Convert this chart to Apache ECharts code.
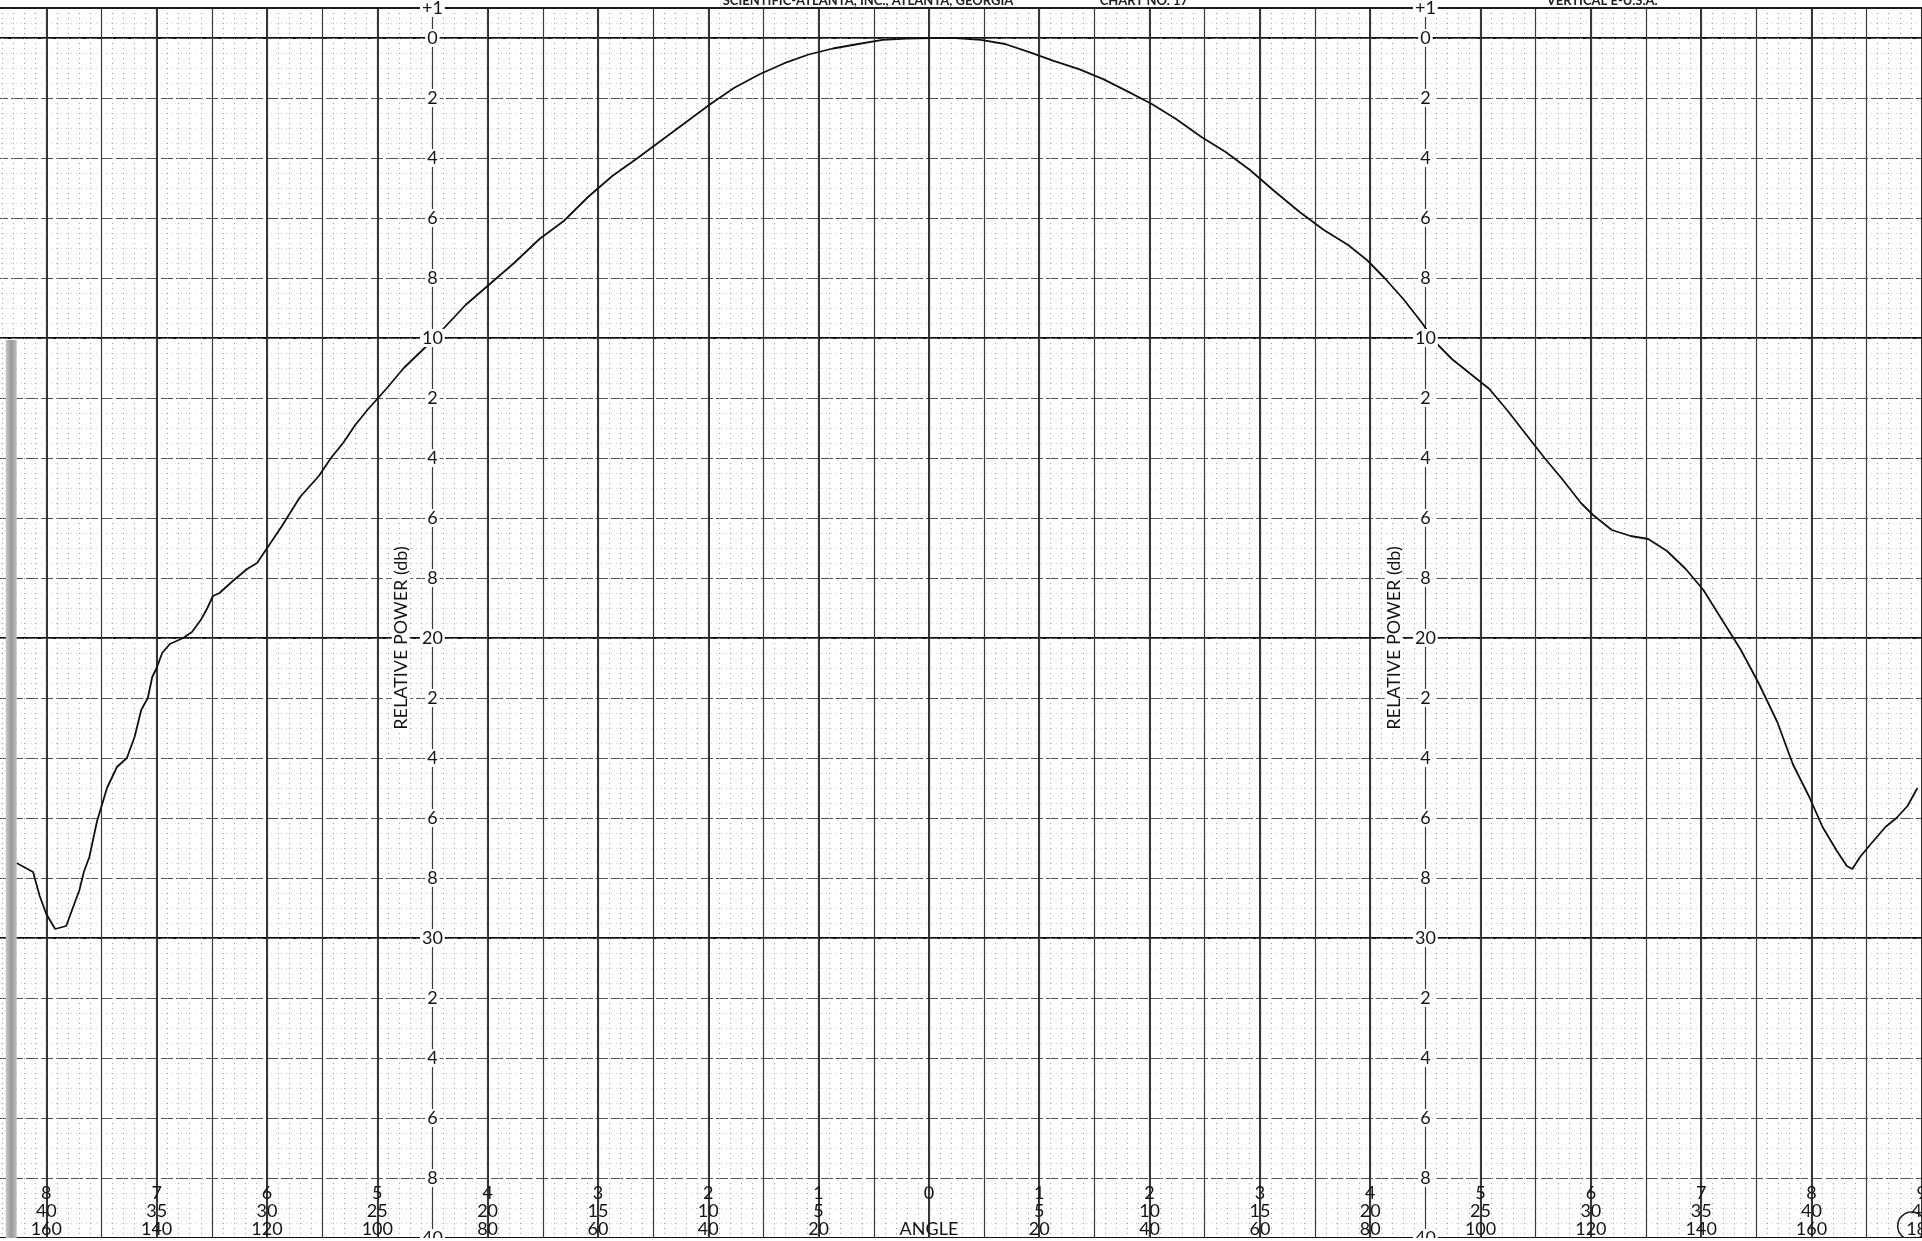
<!DOCTYPE html>
<html>
<head>
<meta charset="utf-8">
<title>Relative power vs angle</title>
<script src="https://cdn.jsdelivr.net/npm/echarts@6/dist/echarts.min.js"></script>
<style>
html, body { margin: 0; padding: 0; width: 1922px; height: 1241px; overflow: hidden; background: #fff; }
/* the plotting paper runs past the window on every side, like the scan */
#chart { position: absolute; left: -63.7px; top: -262px; width: 2041px; height: 1500px; }
</style>
</head>
<body>
<div id="chart"></div>
<script>
// angle in chart units (1 unit = 5 deg on the middle row), power in dB below peak
var angleUnits = [-8.27, -8.12, -8.06, -8.00, -7.92, -7.82, -7.77, -7.70, -7.66, -7.61, -7.54,
    -7.45, -7.36, -7.27, -7.20, -7.14, -7.08, -7.04, -7.00, -6.95, -6.88, -6.76, -6.68, -6.60,
    -6.54, -6.49, -6.43, -6.31, -6.18, -6.09, -5.98, -5.87, -5.70,
    -5.53, -5.42, -5.31, -5.20, -5.09, -4.92, -4.76, -4.59, -4.48, -4.20, -3.98, -3.76, -3.53,
    -3.31, -3.09, -2.87, -2.64, -2.42, -2.20, -1.98, -1.76, -1.53, -1.31, -1.09, -0.87, -0.64,
    -0.42, -0.20, 0.02, 0.24, 0.47, 0.69,
    0.91, 1.13, 1.36, 1.58, 1.80, 2.02, 2.24, 2.47, 2.69, 2.91, 3.13, 3.36, 3.58, 3.80, 3.97,
    4.13, 4.30, 4.47, 4.58, 4.74, 4.91, 5.08, 5.24, 5.41, 5.58, 5.74, 5.91, 6.02, 6.19, 6.36,
    6.52, 6.69, 6.86, 7.02, 7.19, 7.36, 7.52,
    7.69, 7.83, 7.98, 8.10, 8.23, 8.32, 8.37, 8.44, 8.53, 8.67, 8.77, 8.87, 8.96];
var powerDb = [27.5, 27.8, 28.6, 29.2, 29.7, 29.6, 29.1, 28.4, 27.8, 27.3, 26.1,
    25.0, 24.3, 24.0, 23.3, 22.4, 22.0, 21.3, 21.0, 20.5, 20.2, 20.0, 19.8, 19.4,
    19.0, 18.6, 18.5, 18.1, 17.7, 17.5, 16.9, 16.3, 15.3,
    14.6, 14.0, 13.5, 12.9, 12.4, 11.7, 11.0, 10.4, 10.0, 8.9, 8.2, 7.5, 6.7,
    6.1, 5.3, 4.6, 4.0, 3.4, 2.8, 2.2, 1.65, 1.2, 0.84, 0.55, 0.35, 0.2,
    0.06, 0.02, 0, 0, 0.06, 0.2,
    0.47, 0.76, 1.04, 1.37, 1.78, 2.2, 2.7, 3.3, 3.8, 4.4, 5.1, 5.8, 6.4, 6.9, 7.4,
    8.0, 8.7, 9.5, 10.1, 10.7, 11.2, 11.7, 12.4, 13.2, 14.0, 14.7, 15.5, 15.9, 16.4, 16.6,
    16.7, 17.1, 17.7, 18.4, 19.4, 20.4, 21.5,
    22.8, 24.2, 25.3, 26.3, 27.1, 27.6, 27.7, 27.3, 26.9, 26.3, 26.0, 25.6, 25.0];

// tick labels printed on the paper
var dbTicks = [-1, 0, 2, 4, 6, 8, 10, 12, 14, 16, 18, 20, 22, 24, 26, 28, 30, 32, 34, 36, 38, 40];
var dbLabels = ['+1', '0', '2', '4', '6', '8', '10', '2', '4', '6', '8', '20', '2', '4', '6', '8', '30', '2', '4', '6', '8', '40'];
var angleTicks = [-9, -8, -7, -6, -5, -4, -3, -2, -1, 0, 1, 2, 3, 4, 5, 6, 7, 8, 9];
var angleRow1 = ['9', '8', '7', '6', '5', '4', '3', '2', '1', '0', '1', '2', '3', '4', '5', '6', '7', '8', '9'];
var angleRow2 = ['45', '40', '35', '30', '25', '20', '15', '10', '5', '', '5', '10', '15', '20', '25', '30', '35', '40', '45'];
var angleRow3 = ['180', '160', '140', '120', '100', '80', '60', '40', '20', 'ANGLE', '20', '40', '60', '80', '100', '120', '140', '160', '180'];

var headerTexts = ['SCIENTIFIC-ATLANTA, INC., ATLANTA, GEORGIA', 'CHART NO. 17', 'VERTICAL E-U.S.A.'];
var titleText = 'RELATIVE POWER (db)';

var FONT = 'Lato, "DejaVu Sans", sans-serif';
var OX = 63.7, OY = 262;   // window -> chart div offset, only for decorations

function dbLabel(v) {
    var i = dbTicks.indexOf(v);
    return i < 0 ? '' : dbLabels[i];
}
function angleLabel(v) {
    var i = angleTicks.indexOf(v);
    if (i < 0) return '';
    return angleRow1[i] + '\n' + angleRow2[i] + '\n' + angleRow3[i];
}

var hidden = { axisLine: { show: false }, axisTick: { show: false }, axisLabel: { show: false } };
function gridAxis(extra) { return Object.assign({ type: 'value' }, hidden, extra); }

var chart = echarts.init(document.getElementById('chart'), null, { renderer: 'canvas' });
var option = {
    animation: false,
    backgroundColor: '#fff',
    grid: { left: 0, right: 0, top: 0, bottom: 0, containLabel: false, outerBoundsMode: 'none' },
    xAxis: [
        gridAxis({ min: -9, max: 9.5, interval: 1,
            splitLine: { show: true, lineStyle: { color: '#1c1c1c', width: 1.8 } } }),
        gridAxis({ min: -9, max: 9.5, interval: 0.5,
            splitLine: { show: true, lineStyle: { color: '#3a3a3a', width: 1.2 } },
            minorTick: { show: false, splitNumber: 5 },
            minorSplitLine: { show: true, lineStyle: { color: '#a0a0a0', width: 1, type: [1, 4] } } }),
        { type: 'value', min: -9, max: 9.5, interval: 1, position: 'bottom', offset: -57, z: 50,
            axisLine: { show: false }, axisTick: { show: false }, splitLine: { show: false },
            axisLabel: { formatter: angleLabel, fontFamily: FONT, fontSize: 18, lineHeight: 18,
                color: '#151515', margin: 3, showMinLabel: true, showMaxLabel: true } }
    ],
    yAxis: [
        gridAxis({ inverse: true, min: -10, max: 40, interval: 10,
            splitLine: { show: true, lineStyle: { color: '#111', width: 2.2 } } }),
        gridAxis({ inverse: true, min: -10, max: 40, interval: 2,
            splitLine: { show: true, lineStyle: { color: '#555', width: 1.2, type: [12, 3] } },
            minorTick: { show: false, splitNumber: 4 },
            minorSplitLine: { show: true, lineStyle: { color: '#d0d0d0', width: 1, type: [1, 4] } } }),
        { type: 'value', inverse: true, min: -10, max: 40, interval: 1, position: 'left', offset: -496.4, z: 50,
            axisLine: { show: false }, axisTick: { show: false }, splitLine: { show: false },
            axisLabel: { formatter: dbLabel, align: 'center', margin: 0, fontFamily: FONT, fontSize: 18,
                color: '#151515', backgroundColor: '#fff', padding: [0, 2] } },
        { type: 'value', inverse: true, min: -10, max: 40, interval: 1, position: 'right', offset: -551.6, z: 50,
            axisLine: { show: false }, axisTick: { show: false }, splitLine: { show: false },
            axisLabel: { formatter: dbLabel, align: 'center', margin: 0, fontFamily: FONT, fontSize: 18,
                color: '#151515', backgroundColor: '#fff', padding: [0, 2] } }
    ],
    series: [{
        type: 'line',
        xAxisIndex: 0,
        yAxisIndex: 0,
        showSymbol: false,
        symbol: 'none',
        z: 20,
        lineStyle: { color: '#111', width: 1.8 },
        data: angleUnits.map(function(a, i) { return [a, powerDb[i]]; }),
        markLine: {
            silent: true,
            symbol: 'none',
            label: { show: false },
            lineStyle: { color: '#1c1c1c', width: 1.8, type: 'solid' },
            data: [{ yAxis: -1 }]
        }
    }],
    graphic: [
        // blank strip above the +1 line
        { type: 'rect', z: 10, shape: { x: 0, y: 0, width: 2041, height: OY + 7 }, style: { fill: '#fff' } },
        { type: 'text', z: 11, x: 723 + OX, y: OY - 6, style: { text: headerTexts[0], font: 'bold 13px ' + FONT, fill: '#222' } },
        { type: 'text', z: 11, x: 1100 + OX, y: OY - 6, style: { text: headerTexts[1], font: 'bold 13px ' + FONT, fill: '#222' } },
        { type: 'text', z: 11, x: 1547 + OX, y: OY - 6, style: { text: headerTexts[2], font: 'bold 13px ' + FONT, fill: '#222' } },
        { type: 'text', z: 60, x: 401 + OX, y: 638 + OY, rotation: Math.PI / 2,
            style: { text: titleText, font: '18px ' + FONT, fill: '#151515', align: 'center', verticalAlign: 'middle', backgroundColor: '#fff' } },
        { type: 'text', z: 60, x: 1394 + OX, y: 638 + OY, rotation: Math.PI / 2,
            style: { text: titleText, font: '18px ' + FONT, fill: '#151515', align: 'center', verticalAlign: 'middle', backgroundColor: '#fff' } },
        // scan shadow at the left edge of the sheet
        { type: 'rect', z: 60, shape: { x: 6 + OX, y: 340 + OY, width: 11, height: 920 },
            style: { fill: new echarts.graphic.LinearGradient(0, 0, 1, 0, [
                { offset: 0, color: '#c8c8c8' }, { offset: 0.5, color: '#9a9a9a' }, { offset: 1, color: '#bdbdbd' }]) } },
        // hand-drawn ring round the last angle label
        { type: 'circle', z: 60, shape: { cx: 1912 + OX, cy: 1226 + OY, r: 14 }, style: { fill: 'none', stroke: '#222', lineWidth: 1.6 } }
    ]
};
chart.setOption(option);
</script>
</body>
</html>
